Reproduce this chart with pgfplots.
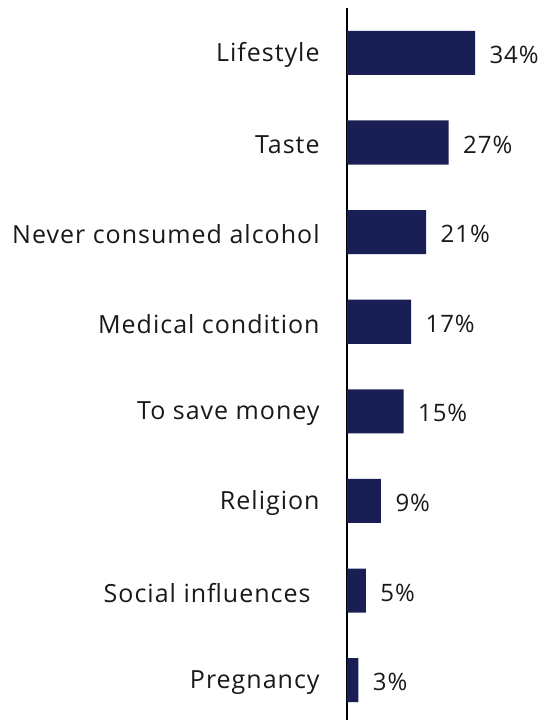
\documentclass[border=0pt]{standalone}
\usepackage{fontspec}
\setmainfont[LetterSpace=4]{Open Sans}
\usepackage{pgfplots}
\pgfplotsset{compat=1.18}
\definecolor{navy}{RGB}{25,31,85}
\begin{document}
\begin{tikzpicture}
\begin{axis}[
  x=3.76pt, y=89.6pt, y dir=reverse,
  xmin=0, xmax=52.4, ymin=-0.502, ymax=7.444,
  axis x line=none, axis y line*=left,
  axis line style={black, line width=1.5pt},
  ytick={0,...,7}, major tick length=0,
  yticklabels={Lifestyle,Taste,Never consumed alcohol,Medical condition,To save money,Religion,Social influences\rule{9pt}{0pt},Pregnancy},
  yticklabel style={font=\fontsize{25}{29}\selectfont, anchor=east, xshift=-24pt, yshift=-2pt, text=black!90},
  xbar, bar width=44pt,
  point meta=x,
  /pgf/number format/assume math mode=true,
  nodes near coords={\pgfmathprintnumber{\pgfplotspointmeta}\%},
  nodes near coords style={font=\fontsize{24}{28}\selectfont, anchor=west, xshift=11pt, yshift=-2pt, text=black!90},
  clip=false,
]
\addplot[fill=navy, draw=none] coordinates {(34,0) (27,1) (21,2) (17,3) (15,4) (9,5) (5,6) (3,7)};
\coordinate (bbsw) at (axis cs:-92.3,7.455);
\coordinate (bbne) at (axis cs:52.4,-0.59);
\end{axis}
\pgfresetboundingbox
\path[use as bounding box] (bbsw) rectangle (bbne);
\end{tikzpicture}
\end{document}
